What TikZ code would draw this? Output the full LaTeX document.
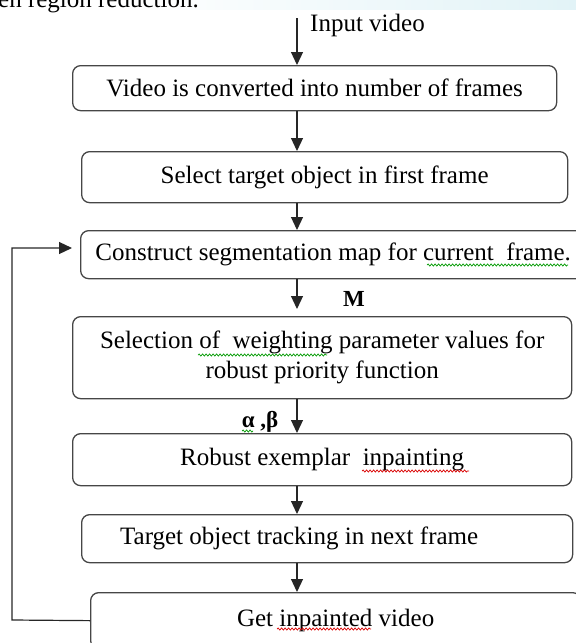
\documentclass[tikz,border=0pt]{standalone}
\usepackage{fontspec}
\setmainfont{Liberation Serif}
\usetikzlibrary{arrows.meta,decorations.pathmorphing}
\definecolor{pagetint}{RGB}{226,243,247}
\definecolor{framegray}{RGB}{70,70,70}
\begin{document}
\begin{tikzpicture}[x=1pt,y=-1pt,
  every node/.style={font=\fontsize{25}{30}\selectfont, text=black},
  box/.style={draw=framegray, line width=1.3pt, rounded corners=8pt,
    inner sep=0pt, anchor=north west, align=center},
  flow/.style={draw=black!85, line width=1.2pt,
    -{Triangle[length=13pt,width=12pt]}},
  lbl/.style={font=\fontsize{23}{27}\selectfont\bfseries},
  spellok/.style={draw=green!60!black, line width=0.7pt, decorate,
    decoration={snake,segment length=3.5pt,amplitude=1.1pt}},
  spellbad/.style={draw=red!85!black, line width=0.7pt, decorate,
    decoration={snake,segment length=3.5pt,amplitude=1.1pt}}
]
\useasboundingbox (0,0) rectangle (576,643);
\clip (0,0) rectangle (576,643);

% faint page tint and the tail of the preceding paragraph
\shade[left color=white, right color=pagetint] (120,0) rectangle (576,9);
\node[anchor=base west, inner sep=0pt] (prev) at (-2,7) {en region reduction.};

% process boxes
\node[box, minimum width=484pt, minimum height=45pt] (b1) at (72,65)
  {Video is converted into number of frames};
\node[box, minimum width=486pt, minimum height=51pt] (b2) at (81,151)
  {Select target object in first frame};
\node[box, minimum width=505pt, minimum height=48pt] (b3) at (80,230)
  {Construct segmentation map for current\ \ frame.};
\node[box, minimum width=499pt, minimum height=82pt] (b4) at (72,316)
  {Selection of\ \ weighting parameter values for\\ robust priority function};
\node[box, minimum width=499pt, minimum height=52pt] (b5) at (72,433)
  {Robust exemplar\ \ inpainting};
\node[box, minimum width=491pt, minimum height=48pt] (b6) at (81,514)
  {Target object tracking in next frame\hspace*{56pt}};
\node[box, minimum width=490pt, minimum height=56pt] (b7) at (90,592)
  {Get inpainted video};

% flow arrows along a common vertical line
\coordinate (ax) at (297,0);
\coordinate (src) at (297,18);
\draw[flow] (src) -- (b1.north -| ax);
\node[anchor=west, inner sep=0pt] (inlbl) at (310,25) {Input video};
\draw[flow] (b1.south -| ax) -- (b2.north -| ax);
\draw[flow] (b2.south -| ax) -- (b3.north -| ax);
\draw[flow, shorten >=7pt] (b3.south -| ax) -- (b4.north -| ax);
\node[lbl, inner sep=0pt] (mlbl) at (354,299) {M};
\draw[flow] (b4.south -| ax) -- (b5.north -| ax);
\node[lbl, inner sep=0pt] (ablbl) at (260,422) {α ,β};
\draw[flow] (b5.south -| ax) -- (b6.north -| ax);
\draw[flow] (b6.south -| ax) -- (b7.north -| ax);

% feedback loop back to the segmentation step
\coordinate (fbcorner) at (12,620);
\coordinate (fbtip) at (72,248);
\draw[flow] (b7.west) -- (fbcorner) |- (fbtip);

% spell-check underlines
\draw[spellok] (427,265) -- (568,265);
\draw[spellok] (198,355) -- (327,355);
\draw[spellok] (242,431) -- (253,431);
\draw[spellbad] (362,471) -- (469,471);
\draw[spellbad] (277,629) -- (371,629);
\end{tikzpicture}
\end{document}
